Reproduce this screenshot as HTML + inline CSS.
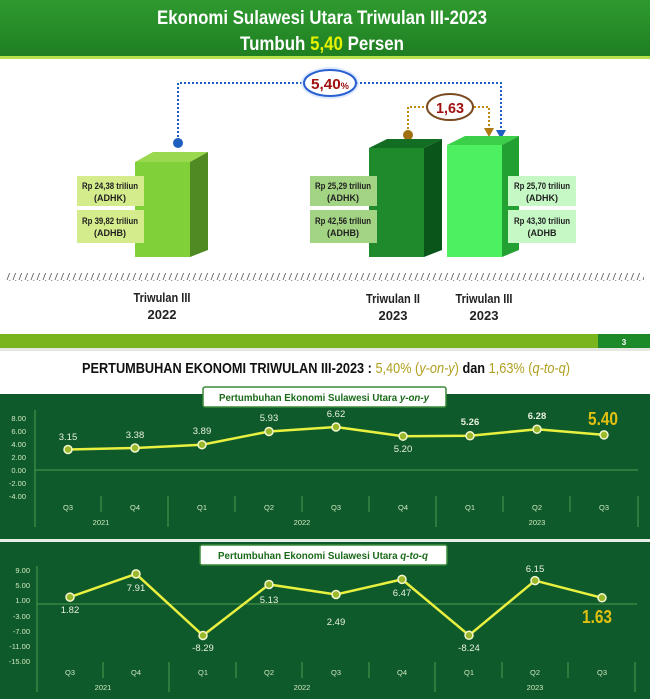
<!DOCTYPE html>
<html><head><meta charset="utf-8"><style>
html,body{margin:0;padding:0;background:#fff;}
svg{display:block;font-family:"Liberation Sans",sans-serif;}
</style></head><body>
<svg width="650" height="699" viewBox="0 0 650 699" xmlns="http://www.w3.org/2000/svg">
<defs>
<linearGradient id="hdr" x1="0" y1="0" x2="0" y2="1"><stop offset="0" stop-color="#2f9a2f"/><stop offset="1" stop-color="#1f7f22"/></linearGradient>
<pattern id="hatch" width="6" height="8" patternUnits="userSpaceOnUse"><line x1="1" y1="8" x2="4" y2="0" stroke="#555" stroke-width="0.8"/></pattern>
</defs>
<rect x="0" y="0" width="650" height="56" fill="url(#hdr)"/>
<rect x="0" y="56" width="650" height="3" fill="#b7e04a"/>
<text x="322" y="24" text-anchor="middle" fill="#fff" font-size="19" font-weight="bold" textLength="330" lengthAdjust="spacingAndGlyphs">Ekonomi Sulawesi Utara Triwulan III-2023</text>
<text x="322" y="50" text-anchor="middle" fill="#fff" font-size="19" font-weight="bold" textLength="164" lengthAdjust="spacingAndGlyphs">Tumbuh <tspan fill="#e6f200">5,40</tspan> Persen</text>

<polyline points="178,141 178,83 501,83 501,132" fill="none" stroke="#1e5fc0" stroke-width="2" stroke-dasharray="2,2"/>
<circle cx="178" cy="143" r="5" fill="#1e5fc0"/>
<polygon points="496,130 506,130 501,139" fill="#1e5fc0"/>
<polyline points="408,133 408,107 489,107 489,130" fill="none" stroke="#c08a10" stroke-width="2" stroke-dasharray="2,2"/>
<circle cx="408" cy="135" r="5" fill="#a07010"/>
<polygon points="484,128 494,128 489,137" fill="#b07a10"/>
<ellipse cx="330" cy="83" rx="29" ry="16" fill="#cfe0ff" opacity="0.7"/>
<ellipse cx="330" cy="83" rx="26" ry="13" fill="#fff" stroke="#2a5fd0" stroke-width="2"/>
<text x="330" y="89" text-anchor="middle" fill="#a01010" font-size="15" font-weight="bold" textLength="38" lengthAdjust="spacingAndGlyphs">5,40<tspan font-size="9">%</tspan></text>
<ellipse cx="450" cy="107" rx="23" ry="13" fill="#fff" stroke="#7a4a20" stroke-width="2"/>
<text x="450" y="113" text-anchor="middle" fill="#a01010" font-size="15" font-weight="bold" textLength="28" lengthAdjust="spacingAndGlyphs">1,63</text>

<polygon points="135,162 153,152 208,152 190,162" fill="#9ad850"/>
<rect x="135" y="162" width="55" height="95" fill="#80d03a"/>
<polygon points="190,162 208,152 208,250 190,257" fill="#4f8a22"/>
<polygon points="369,148 387,139 442,139 424,148" fill="#136d22"/>
<rect x="369" y="148" width="55" height="109" fill="#1f8a2c"/>
<polygon points="424,148 442,139 442,250 424,257" fill="#0a561a"/>
<polygon points="447,145 465,136 519,136 502,145" fill="#3cd04a"/>
<rect x="447" y="145" width="55" height="112" fill="#4cf060"/>
<polygon points="502,145 519,136 519,250 502,257" fill="#22a032"/>

<g font-size="9" font-weight="bold" fill="#222" text-anchor="middle">
<rect x="77" y="176" width="67" height="30" fill="#d5ec8c"/><rect x="77" y="210" width="67" height="33" fill="#d5ec8c"/>
<text x="110" y="189" textLength="56" lengthAdjust="spacingAndGlyphs">Rp 24,38 triliun</text><text x="110" y="201">(ADHK)</text>
<text x="110" y="224" textLength="56" lengthAdjust="spacingAndGlyphs">Rp 39,82 triliun</text><text x="110" y="236">(ADHB)</text>
<rect x="310" y="176" width="67" height="30" fill="#a3d484"/><rect x="310" y="210" width="67" height="33" fill="#a3d484"/>
<text x="343" y="189" textLength="56" lengthAdjust="spacingAndGlyphs">Rp 25,29 triliun</text><text x="343" y="201">(ADHK)</text>
<text x="343" y="224" textLength="56" lengthAdjust="spacingAndGlyphs">Rp 42,56 triliun</text><text x="343" y="236">(ADHB)</text>
<rect x="508" y="176" width="68" height="30" fill="#c6f8c6"/><rect x="508" y="210" width="68" height="33" fill="#c6f8c6"/>
<text x="542" y="189" textLength="56" lengthAdjust="spacingAndGlyphs">Rp 25,70 triliun</text><text x="542" y="201">(ADHK)</text>
<text x="542" y="224" textLength="56" lengthAdjust="spacingAndGlyphs">Rp 43,30 triliun</text><text x="542" y="236">(ADHB</text>
</g>
<rect x="6" y="273" width="638" height="8" fill="url(#hatch)"/>
<g font-size="13" font-weight="bold" fill="#222" text-anchor="middle">
<text x="162" y="302" textLength="57" lengthAdjust="spacingAndGlyphs">Triwulan III</text><text x="162" y="319">2022</text>
<text x="393" y="303" textLength="54" lengthAdjust="spacingAndGlyphs">Triwulan II</text><text x="393" y="320">2023</text>
<text x="484" y="303" textLength="57" lengthAdjust="spacingAndGlyphs">Triwulan III</text><text x="484" y="320">2023</text>
</g>

<rect x="0" y="334" width="650" height="14" fill="#7ab51d"/>
<rect x="598" y="334" width="52" height="14" fill="#1d8a2a"/>
<text x="624" y="345" text-anchor="middle" fill="#fff" font-size="8" font-weight="bold">3</text>
<rect x="0" y="348" width="650" height="3" fill="#e4e8e0"/>
<text x="326" y="373" text-anchor="middle" font-size="15" font-weight="bold" fill="#111" textLength="488" lengthAdjust="spacingAndGlyphs">PERTUMBUHAN EKONOMI TRIWULAN III-2023 : <tspan fill="#b0a020" font-weight="normal">5,40% (<tspan font-style="italic">y-on-y</tspan>)</tspan> dan <tspan fill="#b0a020" font-weight="normal">1,63% (<tspan font-style="italic">q-to-q</tspan>)</tspan></text>

<rect x="0" y="394" width="650" height="145" fill="#0f5a2a"/>
<rect x="0" y="539" width="650" height="3" fill="#e8efe8"/>
<rect x="0" y="542" width="650" height="157" fill="#0f5a2a"/>

<g>
<g fill="#cfe8c0" font-size="7.5" text-anchor="end">
<text x="26" y="421">8.00</text><text x="26" y="434">6.00</text><text x="26" y="447">4.00</text><text x="26" y="460">2.00</text><text x="26" y="473">0.00</text><text x="26" y="486">-2.00</text><text x="26" y="499">-4.00</text>
</g>
<g stroke="#4f9a50" stroke-width="1">
<line x1="35" y1="470" x2="638" y2="470"/>
<line x1="35" y1="410" x2="35" y2="527"/>
<line x1="101" y1="496" x2="101" y2="512"/><line x1="168" y1="496" x2="168" y2="527"/>
<line x1="235" y1="496" x2="235" y2="512"/><line x1="302" y1="496" x2="302" y2="512"/><line x1="369" y1="496" x2="369" y2="512"/>
<line x1="436" y1="496" x2="436" y2="527"/><line x1="503" y1="496" x2="503" y2="512"/><line x1="570" y1="496" x2="570" y2="512"/>
<line x1="638" y1="496" x2="638" y2="527"/>
</g>
<g fill="#cfe8c0" font-size="7.5" text-anchor="middle">
<text x="68" y="510">Q3</text><text x="135" y="510">Q4</text><text x="202" y="510">Q1</text><text x="269" y="510">Q2</text><text x="336" y="510">Q3</text><text x="403" y="510">Q4</text><text x="470" y="510">Q1</text><text x="537" y="510">Q2</text><text x="604" y="510">Q3</text>
<text x="101" y="525">2021</text><text x="302" y="525">2022</text><text x="537" y="525">2023</text>
</g>
<polyline points="68,449.5 135,448 202,444.7 269,431.5 336,427 403,436.2 470,435.8 537,429.2 604,434.9" fill="none" stroke="#e8f040" stroke-width="2.5"/>
<g fill="#9ab82a" stroke="#f4f8d0" stroke-width="1.5">
<circle cx="68" cy="449.5" r="4"/><circle cx="135" cy="448" r="4"/><circle cx="202" cy="444.7" r="4"/><circle cx="269" cy="431.5" r="4"/><circle cx="336" cy="427" r="4"/><circle cx="403" cy="436.2" r="4"/><circle cx="470" cy="435.8" r="4"/><circle cx="537" cy="429.2" r="4"/><circle cx="604" cy="434.9" r="4"/>
</g>
<g fill="#e8f0e0" font-size="9.5" text-anchor="middle">
<text x="68" y="440">3.15</text><text x="135" y="438">3.38</text><text x="202" y="434">3.89</text><text x="269" y="421">5.93</text><text x="336" y="417">6.62</text><text x="403" y="452">5.20</text>
<text x="470" y="425" font-weight="bold">5.26</text><text x="537" y="419" font-weight="bold">6.28</text>
</g>
<text x="603" y="425" text-anchor="middle" fill="#e0c010" font-size="18" font-weight="bold" textLength="30" lengthAdjust="spacingAndGlyphs">5.40</text>
<rect x="203" y="387" width="243" height="20" rx="2" fill="#fff" stroke="#3a8a3a" stroke-width="1.5"/>
<text x="324" y="401" text-anchor="middle" fill="#1a6a1a" font-size="10" font-weight="bold" textLength="210" lengthAdjust="spacingAndGlyphs">Pertumbuhan Ekonomi Sulawesi Utara <tspan font-style="italic">y-on-y</tspan></text>

<g fill="#cfe8c0" font-size="7.5" text-anchor="end">
<text x="30" y="573">9.00</text><text x="30" y="588">5.00</text><text x="30" y="603">1.00</text><text x="30" y="619">-3.00</text><text x="30" y="634">-7.00</text><text x="30" y="649">-11.00</text><text x="30" y="664">-15.00</text>
</g>
<g stroke="#4f9a50" stroke-width="1">
<line x1="37" y1="604" x2="637" y2="604"/>
<line x1="37" y1="566" x2="37" y2="692"/>
<line x1="103" y1="662" x2="103" y2="678"/><line x1="169" y1="662" x2="169" y2="692"/>
<line x1="236" y1="662" x2="236" y2="678"/><line x1="302" y1="662" x2="302" y2="678"/><line x1="369" y1="662" x2="369" y2="678"/>
<line x1="435" y1="662" x2="435" y2="692"/><line x1="502" y1="662" x2="502" y2="678"/><line x1="568" y1="662" x2="568" y2="678"/>
<line x1="635" y1="662" x2="635" y2="692"/>
</g>
<g fill="#cfe8c0" font-size="7.5" text-anchor="middle">
<text x="70" y="675">Q3</text><text x="136" y="675">Q4</text><text x="203" y="675">Q1</text><text x="269" y="675">Q2</text><text x="336" y="675">Q3</text><text x="402" y="675">Q4</text><text x="469" y="675">Q1</text><text x="535" y="675">Q2</text><text x="602" y="675">Q3</text>
<text x="103" y="690">2021</text><text x="302" y="690">2022</text><text x="535" y="690">2023</text>
</g>
<polyline points="70,597.1 136,573.9 203,635.5 269,584.5 336,594.5 402,579.4 469,635.3 535,580.6 602,597.8" fill="none" stroke="#e8f040" stroke-width="2.5"/>
<g fill="#9ab82a" stroke="#f4f8d0" stroke-width="1.5">
<circle cx="70" cy="597.1" r="4"/><circle cx="136" cy="573.9" r="4"/><circle cx="203" cy="635.5" r="4"/><circle cx="269" cy="584.5" r="4"/><circle cx="336" cy="594.5" r="4"/><circle cx="402" cy="579.4" r="4"/><circle cx="469" cy="635.3" r="4"/><circle cx="535" cy="580.6" r="4"/><circle cx="602" cy="597.8" r="4"/>
</g>
<g fill="#e8f0e0" font-size="9.5" text-anchor="middle">
<text x="70" y="613">1.82</text><text x="136" y="591">7.91</text><text x="203" y="651">-8.29</text><text x="269" y="603">5.13</text><text x="336" y="625">2.49</text><text x="402" y="596">6.47</text><text x="469" y="651">-8.24</text><text x="535" y="572">6.15</text>
</g>
<text x="597" y="623" text-anchor="middle" fill="#e0c010" font-size="18" font-weight="bold" textLength="30" lengthAdjust="spacingAndGlyphs">1.63</text>
<rect x="200" y="545" width="247" height="20" rx="2" fill="#fff" stroke="#3a8a3a" stroke-width="1.5"/>
<text x="323" y="559" text-anchor="middle" fill="#1a6a1a" font-size="10" font-weight="bold" textLength="210" lengthAdjust="spacingAndGlyphs">Pertumbuhan Ekonomi Sulawesi Utara <tspan font-style="italic">q-to-q</tspan></text>
</g>
</svg>
</body></html>
